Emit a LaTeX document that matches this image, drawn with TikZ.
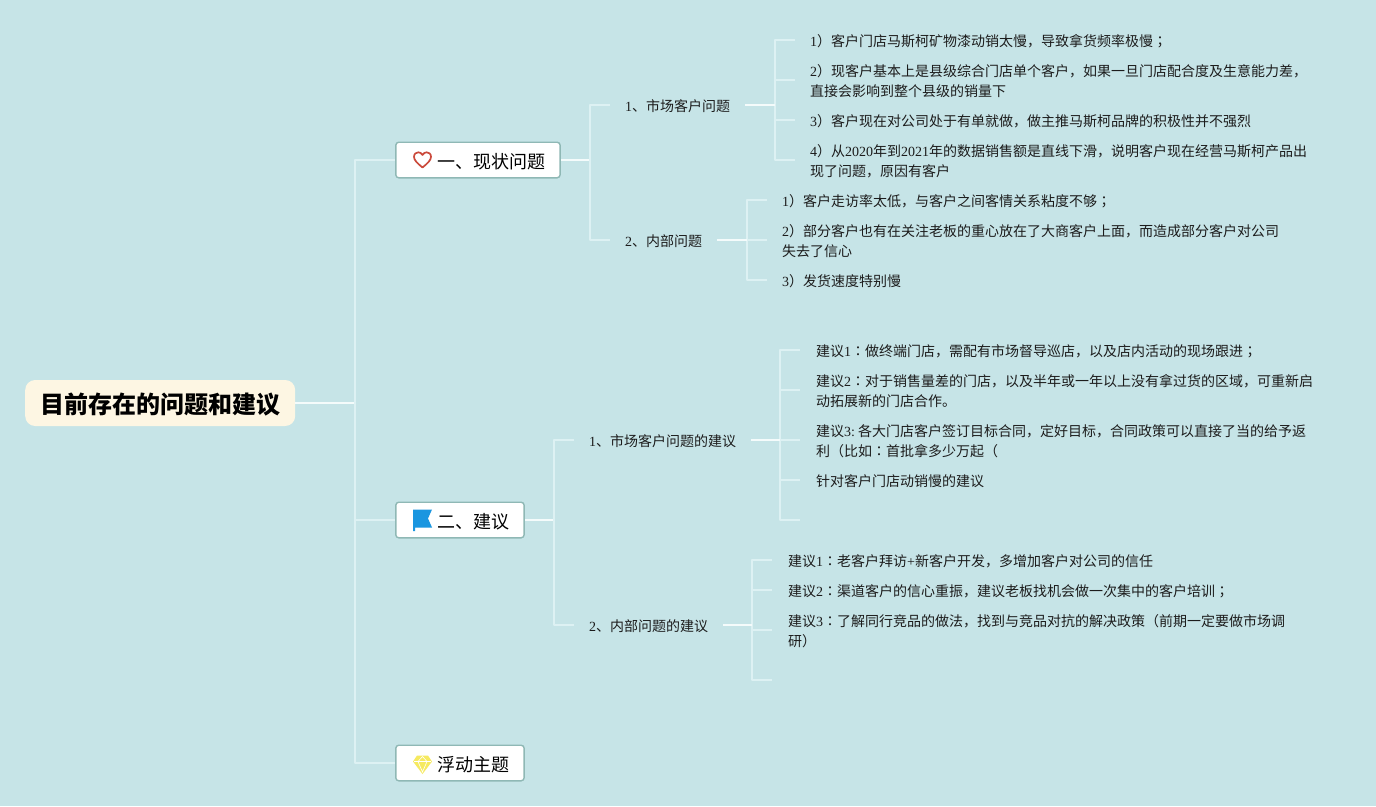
\documentclass[tikz,border=0pt]{standalone}
\usepackage{fontspec}
\setmainfont{Noto Sans CJK SC}
\newfontfamily\latfont{Liberation Serif}
\newfontfamily\tcfont{Noto Sans CJK TC}
\newcommand{\Ltn}[1]{{\latfont #1}}
\newcommand{\Cln}{{\tcfont ：}}
\newcommand{\Sem}{{\tcfont ；}}
\newcommand{\Lowr}[2]{\raisebox{-#1}[0pt][0pt]{#2}}
\definecolor{bgc}{HTML}{C6E4E7}
\definecolor{stemc}{HTML}{F4FBFB}
\definecolor{stubc}{HTML}{DDF1F3}
\definecolor{boxline}{HTML}{8FB8B5}
\definecolor{rootfill}{HTML}{FDF6E3}
\definecolor{inkc}{HTML}{1C1C1C}
\definecolor{heartc}{HTML}{CB4A3C}
\definecolor{flagc}{HTML}{1A96E0}
\definecolor{gemc}{HTML}{F6EA60}
\tikzset{
  x=1pt,y=-1pt,
  rootbox/.style={anchor=west,fill=rootfill,rounded corners=10pt,minimum width=270pt,minimum height=46pt,inner sep=0pt,font=\fontsize{24}{28}\selectfont\bfseries,text=black},
  branchbox/.style={anchor=west,fill=white,draw=boxline,line width=1.4pt,rounded corners=3pt,minimum height=35.6pt,inner sep=0pt},
  branchtext/.style={anchor=west,inner sep=0pt,font=\fontsize{18}{22}\selectfont,text=black},
  subnode/.style={anchor=west,inner xsep=15pt,inner ysep=2pt,font=\fontsize{14}{20}\selectfont,text=inkc},
  leaf/.style={anchor=west,inner xsep=15pt,inner ysep=0pt,align=left,font=\fontsize{14}{20}\selectfont,text=inkc},
  stem/.style={draw=stemc,line width=1.5pt},
  stub/.style={draw=stubc,line width=1.4pt,line join=round},
}
\begin{document}
\begin{tikzpicture}
\useasboundingbox (0,0) rectangle (1376,806);
\fill[bgc] (0,0) rectangle (1376,806);

% nodes
\node[rootbox] (root) at (25,403) {\Lowr{10pt}{目前存在的问题和建议}};
\node[branchbox,minimum width=164.3pt] (b1) at (395.1,160) {};
\node[branchbox,minimum width=128.3pt] (b2) at (395.1,520) {};
\node[branchbox,minimum width=128.3pt] (b3) at (395.1,763) {};
\node[branchtext] (b1t) at (437,161.7) {一、现状问题};
\node[branchtext] (b2t) at (437,521.7) {二、建议};
\node[branchtext] (b3t) at (437,764.7) {浮动主题};

\node[subnode] (s1) at (610,105) {\Lowr{6pt}{\Ltn{1}、市场客户问题}};
\node[subnode] (s2) at (610,240) {\Lowr{6pt}{\Ltn{2}、内部问题}};
\node[subnode] (s3) at (574,440) {\Lowr{6pt}{\Ltn{1}、市场客户问题的建议}};
\node[subnode] (s4) at (574,625) {\Lowr{6pt}{\Ltn{2}、内部问题的建议}};

\node[leaf] (a1) at (795,41) {\Ltn{1}）客户门店马斯柯矿物漆动销太慢，导致拿货频率极慢\Sem};
\node[leaf] (a2) at (795,81) {\Ltn{2}）现客户基本上是县级综合门店单个客户，如果一旦门店配合度及生意能力差，\\直接会影响到整个县级的销量下};
\node[leaf] (a3) at (795,121) {\Ltn{3}）客户现在对公司处于有单就做，做主推马斯柯品牌的积极性并不强烈};
\node[leaf] (a4) at (795,161) {\Ltn{4}）从\Ltn{2020}年到\Ltn{2021}年的数据销售额是直线下滑，说明客户现在经营马斯柯产品出\\现了问题，原因有客户};

\node[leaf] (c1) at (767,201) {\Ltn{1}）客户走访率太低，与客户之间客情关系粘度不够\Sem};
\node[leaf] (c2) at (767,241) {\Ltn{2}）部分客户也有在关注老板的重心放在了大商客户上面，而造成部分客户对公司\\失去了信心};
\node[leaf] (c3) at (767,281) {\Ltn{3}）发货速度特别慢};

\node[leaf] (d1) at (801,351) {建议\Ltn{1}\Cln 做终端门店，需配有市场督导巡店，以及店内活动的现场跟进\Sem};
\node[leaf] (d2) at (801,391) {建议\Ltn{2}\Cln 对于销售量差的门店，以及半年或一年以上没有拿过货的区域，可重新启\\动拓展新的门店合作。};
\node[leaf] (d3) at (801,441) {建议\Ltn{3:}\hspace{3pt}各大门店客户签订目标合同，定好目标，合同政策可以直接了当的给予返\\利（比如\Cln 首批拿多少万起（};
\node[leaf] (d4) at (801,481) {针对客户门店动销慢的建议};

\node[leaf] (e1) at (773,561) {建议\Ltn{1}\Cln 老客户拜访\Ltn{+}新客户开发，多增加客户对公司的信任};
\node[leaf] (e2) at (773,591) {建议\Ltn{2}\Cln 渠道客户的信心重振，建议老板找机会做一次集中的客户培训\Sem};
\node[leaf] (e3) at (773,631) {建议\Ltn{3}\Cln 了解同行竞品的做法，找到与竞品对抗的解决政策（前期一定要做市场调\\研）};

% free ends of the connectors
\coordinate (j0) at (355,403);
\coordinate (j1) at (590,160);
\coordinate (j2) at (554,520);
\coordinate (j3) at (775,105);
\coordinate (j4) at (747,240);
\coordinate (j5) at (780,440);
\coordinate (j6) at (752,625);
\coordinate (a1s) at (795,40);
\coordinate (a2s) at (795,80);
\coordinate (a3s) at (795,120);
\coordinate (a4s) at (795,160);
\coordinate (c1s) at (767,200);
\coordinate (c2s) at (767,240);
\coordinate (c3s) at (767,280);
\coordinate (d1s) at (800,350);
\coordinate (d2s) at (800,390);
\coordinate (d3s) at (800,440);
\coordinate (d4s) at (800,480);
\coordinate (d5s) at (800,520);
\coordinate (e1s) at (772,560);
\coordinate (e2s) at (772,590);
\coordinate (e3s) at (772,630);
\coordinate (e4s) at (772,680);

% connectors
\draw[stem] (root.east) -- (j0);
\draw[stub] (b1.west) -| (j0) |- (b3.west);
\draw[stub] (j0) |- (b2.west);

\draw[stem] (b1.east) -- (j1);
\draw[stub] (s1.west) -| (j1) |- (s2.west);
\draw[stem] (b2.east) -- (j2);
\draw[stub] (s3.west) -| (j2) |- (s4.west);

\draw[stub] (a1s) -| (j3) |- (a4s);
\draw[stub] (j3 |- a2s) -- (a2s);
\draw[stub] (j3 |- a3s) -- (a3s);
\draw[stem] (s1.east) -- (j3);

\draw[stub] (c1s) -| (j4) |- (c3s);
\draw[stub] (j4) -- (c2s);
\draw[stem] (s2.east) -- (j4);

\draw[stub] (d1s) -| (j5) |- (d5s);
\draw[stub] (j5 |- d2s) -- (d2s);
\draw[stub] (j5) -- (d3s);
\draw[stub] (j5 |- d4s) -- (d4s);
\draw[stem] (s3.east) -- (j5);

\draw[stub] (e1s) -| (j6) |- (e4s);
\draw[stub] (j6 |- e2s) -- (e2s);
\draw[stub] (j6 |- e3s) -- (e3s);
\draw[stem] (s4.east) -- (j6);

% icons
\draw[heartc,line width=1.7pt,line join=round]
  (422.5,167.5) .. controls (417,163) and (414,160) .. (414,156.8)
  .. controls (414,153.6) and (416.5,152.3) .. (418.3,152.3)
  .. controls (420,152.3) and (421.5,153.2) .. (422.5,155)
  .. controls (423.5,153.2) and (425,152.3) .. (426.7,152.3)
  .. controls (428.5,152.3) and (431,153.6) .. (431,156.8)
  .. controls (431,160) and (428,163) .. (422.5,167.5) -- cycle;

\fill[flagc]
  (413,509.5) -- (432,509.5) -- (428,518.5) -- (432,527.5) -- (415,527.5) -- (415,531) -- (413,531) -- cycle;

\fill[gemc,line join=round]
  (417,755.5) -- (428,755.5) -- (432,761.5) -- (422.5,774) -- (413,761.5) -- cycle;
\draw[white,line width=0.6pt] (414,761.5) -- (431,761.5)
  (418,761.5) -- (422.5,772) -- (427,761.5)
  (418,761.5) -- (422.5,756.5) -- (427,761.5);
\end{tikzpicture}
\end{document}
